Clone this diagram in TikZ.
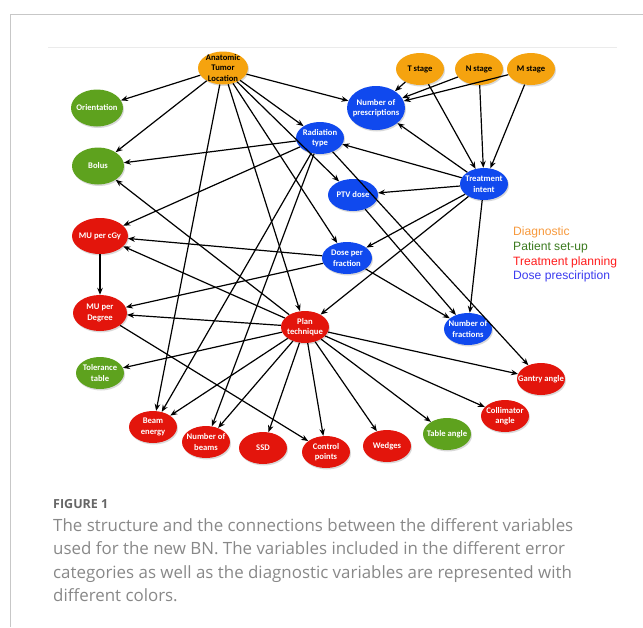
\documentclass[tikz,border=0pt]{standalone}
\usepackage{fontspec}
\usetikzlibrary{shapes.geometric,arrows.meta,shadows}
\newfontfamily\nodefont{Carlito}
\newfontfamily\legfont{Liberation Sans}
\newfontfamily\capfont{Open Sans}
\definecolor{diagfill}{HTML}{F5A30F}
\definecolor{setupfill}{HTML}{5EA21E}
\definecolor{planfill}{HTML}{E3150C}
\definecolor{prescfill}{HTML}{1049EE}
\definecolor{diagtext}{HTML}{F7993C}
\definecolor{setuptext}{HTML}{3B7A1E}
\definecolor{plantext}{HTML}{FF1C1C}
\definecolor{presctext}{HTML}{3B3BEF}
\definecolor{captext}{HTML}{888888}

\tikzstyle{var} = [ellipse, inner xsep=-6pt, inner ysep=-4pt, minimum width=48pt,
    minimum height=32pt, align=center, text=white,
    font=\nodefont\bfseries\fontsize{8.6}{10.5}\selectfont,
    drop shadow={shadow xshift=1pt, shadow yshift=-1.5pt, opacity=0.3}]
\tikzstyle{diag} = [var, fill=diagfill, text=black]
\tikzstyle{setup} = [var, fill=setupfill]
\tikzstyle{plan} = [var, fill=planfill]
\tikzstyle{presc} = [var, fill=prescfill]
\tikzstyle{arr} = [-{Stealth[length=7pt,width=5.5pt]}, line width=1.2pt]
\tikzstyle{legend} = [anchor=west, inner sep=0pt, font=\legfont\fontsize{12.1}{14}\selectfont]
\tikzstyle{capline} = [anchor=base west, inner sep=0pt, text=captext,
    font=\capfont\fontsize{16.9}{23.5}\selectfont]

\begin{document}
\begin{tikzpicture}[x=1pt, y=-1pt]
\useasboundingbox (0,0) rectangle (643,627);
\draw[black!22, line width=0.9pt] (10,627) -- (10,14) -- (643,14);
\draw[black!8, line width=0.8pt] (48,47) -- (617,47);

\node[diag, minimum width=50pt, minimum height=33pt] (atl) at (223,68) {Anatomic\\Tumor\\Location};
\node[diag] (tst) at (420,69) {T stage};
\node[diag] (nst) at (479,69) {N stage};
\node[diag] (mst) at (531,69) {M stage};
\node[setup, minimum width=52pt, minimum height=37pt] (ori) at (97,108) {Orientation};
\node[setup, minimum width=52pt, minimum height=37pt] (bol) at (98,166) {Bolus};
\node[presc] (rad) at (320,138) {Radiation\\type};
\node[presc, minimum width=58pt, minimum height=44pt] (nop) at (376,108) {Number of\\prescriptions};
\node[presc] (ti) at (484,184) {Treatment\\intent};
\node[presc, minimum width=50pt] (ptv) at (353,195) {PTV dose};
\node[plan, minimum width=56pt, minimum height=36pt] (mucgy) at (100,236) {MU per cGy};
\node[presc, minimum width=50pt] (dpf) at (347,258) {Dose per\\fraction};
\node[plan, minimum width=54pt, minimum height=36pt] (mudeg) at (100,313) {MU per\\Degree};
\node[plan] (pt) at (305,327) {Plan\\technique};
\node[presc] (nof) at (468,329) {Number of\\fractions};
\node[setup] (tol) at (100,373) {Tolerance\\table};
\node[plan] (be) at (153,427) {Beam\\energy};
\node[plan] (nob) at (206,442) {Number of\\beams};
\node[plan] (ssd) at (263,448) {SSD};
\node[plan] (cp) at (326,452) {Control\\points};
\node[plan] (wed) at (387,446) {Wedges};
\node[setup] (tab) at (447,434) {Table angle};
\node[plan] (col) at (505,416) {Collimator\\angle};
\node[plan] (gan) at (541,379) {Gantry angle};

\node[legend, text=diagtext] (lgdiag) at (513,232) {Diagnostic};
\node[legend, text=setuptext] (lgsetup) at (513,247) {Patient set-up};
\node[legend, text=plantext] (lgplan) at (513,262) {Treatment planning};
\node[legend, text=presctext] (lgpresc) at (513,276) {Dose presciription};

\draw[arr] (atl) -- (ori);
\draw[arr] (atl) -- (bol);
\draw[arr] (atl) -- (nop);
\draw[arr] (atl) -- (rad);
\draw[arr] (atl) -- (ptv);
\draw[arr] (atl) -- (dpf);
\draw[arr] (atl) -- (pt);
\draw[arr] (atl) -- (be);
\draw[arr] (tst) -- (nop);
\draw[arr] (tst) -- (ti);
\draw[arr] (nst) -- (nop);
\draw[arr] (nst) -- (ti);
\draw[arr] (mst) -- (nop);
\draw[arr] (mst) -- (ti);
\draw[arr] (ti) -- (nop);
\draw[arr] (ti) -- (rad);
\draw[arr] (ti) -- (ptv);
\draw[arr] (ti) -- (dpf);
\draw[arr] (ti) -- (pt);
\draw[arr] (ti) -- (nof);
\draw[arr] (rad) -- (bol);
\draw[arr] (rad) -- (mucgy);
\draw[arr] (rad) -- (be);
\draw[arr] (rad) -- (nob);
\draw[arr] (rad) -- (gan);
\draw[arr] (ptv) -- (nof);
\draw[arr] (dpf) -- (mucgy);
\draw[arr] (dpf) -- (mudeg);
\draw[arr] (dpf) -- (nof);
\draw[arr] (mucgy) -- (mudeg);
\draw[arr] (mudeg) -- (cp);
\draw[arr] (pt) -- (bol);
\draw[arr] (pt) -- (mucgy);
\draw[arr] (pt) -- (mudeg);
\draw[arr] (pt) -- (tol);
\draw[arr] (pt) -- (be);
\draw[arr] (pt) -- (nob);
\draw[arr] (pt) -- (ssd);
\draw[arr] (pt) -- (cp);
\draw[arr] (pt) -- (wed);
\draw[arr] (pt) -- (tab);
\draw[arr] (pt) -- (col);
\draw[arr] (pt) -- (gan);

\node[anchor=base west, inner sep=0pt, text=black!60,
    font=\capfont\bfseries\fontsize{12.5}{15}\selectfont] (fig) at (53,508) {FIGURE 1};
\node[capline] (cap1) at (53,531) {The structure and the connections between the different variables};
\node[capline] (cap2) at (53,554.5) {used for the new BN. The variables included in the different error};
\node[capline] (cap3) at (53,578) {categories as well as the diagnostic variables are represented with};
\node[capline] (cap4) at (53,601.5) {different colors.};
\end{tikzpicture}
\end{document}
